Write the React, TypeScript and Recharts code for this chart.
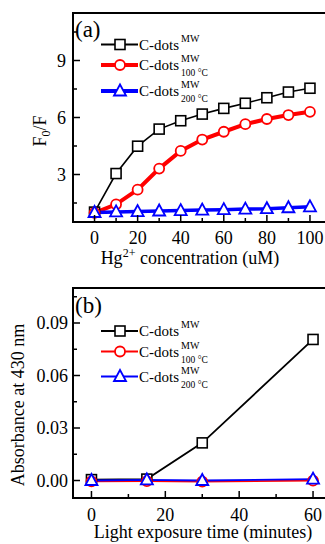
import React from 'react'
import { LineChart, Line, XAxis, YAxis, ReferenceArea, Legend, Label } from 'recharts'

// panel (a): quenching vs Hg2+ concentration
const CONC = [0, 10, 20, 30, 40, 50, 60, 70, 80, 90, 100]
const MW = [1.02, 3.05, 4.49, 5.39, 5.83, 6.18, 6.48, 6.75, 7.04, 7.34, 7.54]
const MW_100 = [0.98, 1.43, 2.2, 3.31, 4.24, 4.84, 5.25, 5.65, 5.92, 6.13, 6.3]
const MW_200 = [1.0, 1.03, 1.05, 1.08, 1.1, 1.13, 1.15, 1.18, 1.2, 1.25, 1.3]

// panel (b): absorbance vs light exposure
const TIME = [0, 15, 30, 60]
const ABS_MW = [0.0005, 0.0008, 0.0215, 0.0806]
const ABS_100 = [-0.0005, -0.0004, -0.0006, -0.0001]
const ABS_200 = [0.0, 0.0004, 0.0, 0.0008]

const A_XTICKS = [0, 10, 20, 30, 40, 50, 60, 70, 80, 90, 100]
const A_YTICKS = [1.5, 3, 4.5, 6, 7.5, 9, 10.5]
const B_XTICKS = [0, 10, 20, 30, 40, 50, 60]
const B_YTICKS = [0, 0.015, 0.03, 0.045, 0.06, 0.075, 0.09, 0.105]

const dataA = CONC.map((c, i) => ({ c, mw: MW[i], mw100: MW_100[i], mw200: MW_200[i] }))
const dataB = TIME.map((t, i) => ({ t, mw: ABS_MW[i], mw100: ABS_100[i], mw200: ABS_200[i] }))

const FONT = 'Liberation Serif'
const RED = '#ff0000'
const BLUE = '#0000ff'
const W = 340

type Shape = 'square' | 'circle' | 'triangle'

function Marker({ cx, cy, shape, color }: { cx: number; cy: number; shape: Shape; color: string }) {
  if (shape === 'square')
    return <rect x={cx - 5} y={cy - 5} width={10} height={10} fill='#fff' stroke={color} strokeWidth={1.6} />
  if (shape === 'circle') return <circle cx={cx} cy={cy} r={5} fill='#fff' stroke={color} strokeWidth={1.8} />
  return (
    <polygon
      points={`${cx},${cy - 6.5} ${cx - 6},${cy + 4.5} ${cx + 6},${cy + 4.5}`}
      fill='#fff'
      stroke={color}
      strokeWidth={1.8}
    />
  )
}

const dot = (shape: Shape, color: string) => (p: any) =>
  p.cx == null || p.cy == null ? (
    <g key={`${shape}-${p.index}`} />
  ) : (
    <Marker key={`${shape}-${p.index}`} cx={p.cx} cy={p.cy} shape={shape} color={color} />
  )

// ticks point inward, minor ones are shorter and unlabeled
function XTick(props: any) {
  const { x, y, payload, margin, isMajor } = props
  const axisY = y - margin
  const major = isMajor(payload.value)
  return (
    <g>
      <line x1={x} x2={x} y1={axisY} y2={axisY - (major ? 7 : 4)} stroke='#000' strokeWidth={1.5} />
      {major && (
        <text x={x} y={y} dy='0.72em' textAnchor='middle' fontSize={18} fontFamily={FONT} fill='#000'>
          {payload.value}
        </text>
      )}
    </g>
  )
}

function YTick(props: any) {
  const { x, y, payload, margin, isMajor, fmt } = props
  const axisX = x + margin
  const major = isMajor(payload.value)
  return (
    <g>
      <line x1={axisX} x2={axisX + (major ? 7 : 4)} y1={y} y2={y} stroke='#000' strokeWidth={1.5} />
      {major && (
        <text x={x} y={y} dy='0.35em' textAnchor='end' fontSize={18} fontFamily={FONT} fill='#000'>
          {fmt(payload.value)}
        </text>
      )}
    </g>
  )
}

const ENTRIES: { shape: Shape; color: string; sub?: string }[] = [
  { shape: 'square', color: '#000' },
  { shape: 'circle', color: RED, sub: '100 °C' },
  { shape: 'triangle', color: BLUE, sub: '200 °C' },
]

function LegendBox({ rows, widths }: { rows: number[]; widths: number[] }) {
  return (
    <svg width={W} height={120} style={{ position: 'absolute', left: 0, top: 0, overflow: 'visible' }}>
      {ENTRIES.map((e, i) => (
        <g key={i}>
          <line x1={101} x2={138} y1={rows[i]} y2={rows[i]} stroke={e.color} strokeWidth={widths[i]} />
          <Marker cx={120} cy={rows[i]} shape={e.shape} color={e.color} />
          <text x={139} y={rows[i] + 5} fontSize={15} fontFamily={FONT} fill='#000'>
            C-dots
          </text>
          <text x={181} y={rows[i] - 3} fontSize={10} fontFamily={FONT} fill='#000'>
            MW
          </text>
          {e.sub && (
            <text x={181} y={rows[i] + 11} fontSize={9.5} fontFamily={FONT} fill='#000'>
              {e.sub}
            </text>
          )}
        </g>
      ))}
    </svg>
  )
}

function ChartA() {
  return (
    <LineChart width={W} height={270} data={dataA} margin={{ top: 13, right: 8.5, left: 0, bottom: 0 }}>
      <XAxis
        dataKey='c'
        type='number'
        domain={[-10, 110]}
        ticks={A_XTICKS}
        interval={0}
        axisLine={false}
        tickLine={false}
        tickSize={0}
        tickMargin={9}
        height={48}
        tick={<XTick margin={9} isMajor={(v: number) => v % 20 === 0} />}
      >
        <Label
          content={() => (
            <text x={190} y={264} textAnchor='middle' fontSize={18} fontFamily={FONT} fill='#000'>
              Hg
              <tspan fontSize={12} dy={-7}>
                2+
              </tspan>
              <tspan dy={7}> concentration (uM)</tspan>
            </text>
          )}
        />
      </XAxis>
      <YAxis
        type='number'
        domain={[0.5, 11.5]}
        ticks={A_YTICKS}
        interval={0}
        width={73}
        axisLine={false}
        tickLine={false}
        tickSize={0}
        tickMargin={7}
        tick={<YTick margin={7} isMajor={(v: number) => v % 3 === 0} fmt={(v: number) => v} />}
      >
        <Label
          content={() => (
            <text
              x={40}
              y={131}
              dy='0.35em'
              transform='rotate(-90, 40, 131)'
              textAnchor='middle'
              fontSize={18}
              fontFamily={FONT}
              fill='#000'
            >
              F
              <tspan fontSize={12} dy={4}>
                0
              </tspan>
              <tspan dy={-4}>/F</tspan>
            </text>
          )}
        />
      </YAxis>
      <ReferenceArea x1={-10} x2={110} y1={0.5} y2={11.5} fill='none' stroke='#000' strokeWidth={2} />
      <Legend
        layout='vertical'
        align='center'
        verticalAlign='middle'
        wrapperStyle={{ left: 0, top: 0, width: W, height: 0 }}
        content={() => <LegendBox rows={[44.5, 65, 91]} widths={[2, 4, 4]} />}
      />
      <Line
        dataKey='mw'
        stroke='#000'
        strokeWidth={1.6}
        dot={dot('square', '#000')}
        isAnimationActive={false}
      />
      <Line dataKey='mw100' stroke={RED} strokeWidth={4} dot={dot('circle', RED)} isAnimationActive={false} />
      <Line dataKey='mw200' stroke={BLUE} strokeWidth={3.5} dot={dot('triangle', BLUE)} isAnimationActive={false} />
      <text x={75} y={37} fontSize={23} fontFamily={FONT} fill='#000'>
        (a)
      </text>
    </LineChart>
  )
}

function ChartB() {
  return (
    <LineChart width={W} height={274} data={dataB} margin={{ top: 18, right: 8.5, left: 0, bottom: 0 }}>
      <XAxis
        dataKey='t'
        type='number'
        domain={[-5, 65]}
        ticks={B_XTICKS}
        interval={0}
        axisLine={false}
        tickLine={false}
        tickSize={0}
        tickMargin={10}
        height={46}
        tick={<XTick margin={10} isMajor={(v: number) => v % 20 === 0} />}
      >
        <Label
          content={() => (
            <text x={203} y={268} textAnchor='middle' fontSize={18} fontFamily={FONT} fill='#000'>
              Light exposure time (minutes)
            </text>
          )}
        />
      </XAxis>
      <YAxis
        type='number'
        domain={[-0.01, 0.11]}
        ticks={B_YTICKS}
        interval={0}
        width={73}
        axisLine={false}
        tickLine={false}
        tickSize={0}
        tickMargin={5}
        tick={
          <YTick
            margin={5}
            isMajor={(v: number) => Math.round(v * 1000) % 30 === 0}
            fmt={(v: number) => v.toFixed(2)}
          />
        }
      >
        <Label
          content={() => (
            <text
              x={18}
              y={135}
              dy='0.35em'
              transform='rotate(-90, 18, 135)'
              textAnchor='middle'
              fontSize={18}
              fontFamily={FONT}
              fill='#000'
            >
              Absorbance at 430 nm
            </text>
          )}
        />
      </YAxis>
      <ReferenceArea x1={-5} x2={65} y1={-0.01} y2={0.11} fill='none' stroke='#000' strokeWidth={2} />
      <Legend
        layout='vertical'
        align='center'
        verticalAlign='middle'
        wrapperStyle={{ left: 0, top: 0, width: W, height: 0 }}
        content={() => <LegendBox rows={[61, 81.5, 106.5]} widths={[2, 2, 2]} />}
      />
      <Line dataKey='mw' stroke='#000' strokeWidth={1.8} dot={dot('square', '#000')} isAnimationActive={false} />
      <Line dataKey='mw100' stroke={RED} strokeWidth={1.8} dot={dot('circle', RED)} isAnimationActive={false} />
      <Line dataKey='mw200' stroke={BLUE} strokeWidth={1.8} dot={dot('triangle', BLUE)} isAnimationActive={false} />
      <text x={75} y={43} fontSize={23} fontFamily={FONT} fill='#000'>
        (b)
      </text>
    </LineChart>
  )
}

export default function App() {
  return (
    <div
      style={{
        position: 'absolute',
        left: 0,
        top: 0,
        width: 325,
        height: 544,
        overflow: 'hidden',
        background: '#fff',
        fontFamily: FONT,
      }}
    >
      <div style={{ position: 'absolute', left: 0, top: 0 }}>
        <ChartA />
      </div>
      <div style={{ position: 'absolute', left: 0, top: 270 }}>
        <ChartB />
      </div>
    </div>
  )
}
